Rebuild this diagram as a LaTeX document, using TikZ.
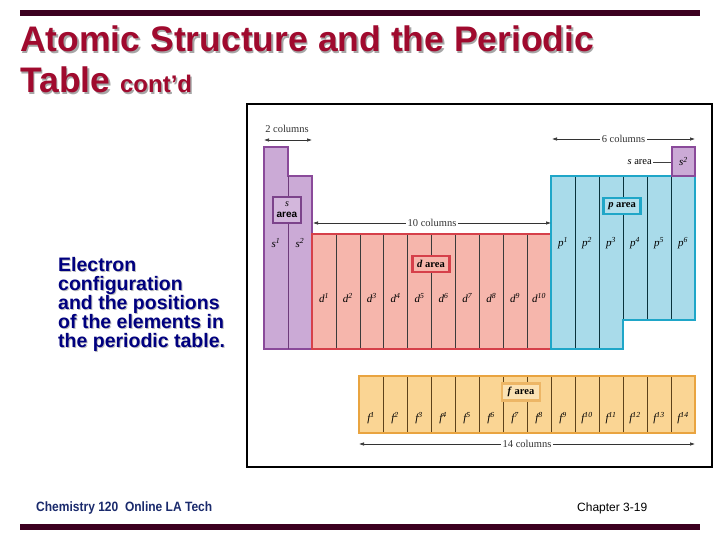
\documentclass[tikz,border=0pt]{standalone}
\usepackage{fontspec}
\setmainfont{Liberation Serif}
\setsansfont{Liberation Sans}
\usetikzlibrary{arrows.meta}
\definecolor{barc}{HTML}{3C0020}
\definecolor{titlered}{HTML}{A00A2E}
\definecolor{navyc}{HTML}{00007F}
\definecolor{footc}{HTML}{1A2A6C}
\definecolor{sfill}{HTML}{CBAAD6}
\definecolor{sline}{HTML}{8A4A9A}
\definecolor{dfill}{HTML}{F6B6AC}
\definecolor{dline}{HTML}{D6404A}
\definecolor{pfill}{HTML}{A9DBEA}
\definecolor{pline}{HTML}{1FA6C8}
\definecolor{ffill}{HTML}{FAD594}
\definecolor{fline}{HTML}{E9A440}
\definecolor{divc}{HTML}{3A3A3A}
\begin{document}
\begin{tikzpicture}[x=1bp,y=-1bp,
  blockline/.style={line width=2bp, line join=miter},
  divline/.style={line width=0.6bp, draw=divc},
  cell/.style={font=\fontsize{11bp}{12bp}\selectfont\itshape, inner sep=0pt},
  dimarrow/.style={draw=black!80, line width=0.6bp, {Latex[length=5bp,width=3.5bp]}-{Latex[length=5bp,width=3.5bp]}},
  dimtext/.style={font=\fontsize{10.5bp}{12bp}\selectfont, fill=white, inner sep=2bp, text=black!80},
  areabox/.style={line width=2.5bp, inner sep=1bp, font=\fontsize{10.5bp}{11bp}\selectfont\bfseries, align=center},
  titletext/.style={font=\sffamily\bfseries\fontsize{35.5bp}{38bp}\selectfont, anchor=base west, inner sep=0pt},
  sidetext/.style={font=\sffamily\bfseries\fontsize{19.5bp}{19bp}\selectfont, anchor=north west, align=left, inner sep=0pt}
]
\useasboundingbox (0,0) rectangle (720,540);
% bars
\fill[barc] (20,10) rectangle (700,16);
\fill[barc] (20,524) rectangle (700,530);
% title (shadow drawn first)
\node[titletext, text=black!35] at (21.5,53.5) {Atomic Structure and the Periodic};
\node[titletext, text=titlered] (t1) at (20,52) {Atomic Structure and the Periodic};
\node[titletext, text=black!35] at (21.5,94.5) {Table {\fontsize{24bp}{26bp}\selectfont cont’d}};
\node[titletext, text=titlered] (t2) at (20,93) {Table {\fontsize{24bp}{26bp}\selectfont cont’d}};
% side text
\node[sidetext, text=black!25] at (59,258) {Electron\\configuration\\and the positions\\of the elements in\\the periodic table.};
\node[sidetext, text=navyc] (side) at (58,257) {Electron\\configuration\\and the positions\\of the elements in\\the periodic table.};
% footer
\node[anchor=west, text=footc, font=\sffamily\bfseries\fontsize{13.5bp}{14bp}\selectfont, inner sep=0pt] (foot1) at (36,508) {\scalebox{0.89}[1]{Chemistry 120\ \ Online LA Tech}};
\node[anchor=west, font=\sffamily\fontsize{12bp}{14bp}\selectfont, inner sep=0pt] (foot2) at (577,508) {Chapter 3-19};
% frame
\draw[line width=2bp] (247,104) rectangle (712,467);
% s block
\filldraw[blockline, fill=sfill, draw=sline] (264,147) -- (288,147) -- (288,176) -- (312,176) -- (312,349) -- (264,349) -- cycle;
\draw[divline, draw=sline!80!black] (288,176) -- (288,349);
\node[areabox, fill=sfill!85!white, draw=sline!90!black, minimum width=28bp, minimum height=26bp, font=\fontsize{10bp}{11bp}\selectfont] (sarea) at (287,210) {\textit{s}\\\textbf{\sffamily area}};
\node[cell] (s1) at (276,243) {s\textsuperscript{1}};
\node[cell] (s2) at (300,243) {s\textsuperscript{2}};
% d block
\filldraw[blockline, fill=dfill, draw=dline] (312,234) rectangle (551,349);
\foreach \i in {1,...,9} \draw[divline] ({312+23.9*\i},235) -- ({312+23.9*\i},348);
\foreach \i in {1,...,10} \node[cell] (d\i) at ({312+23.9*(\i-0.5)},298) {d\textsuperscript{\i}};
\node[areabox, fill=dfill, draw=dline, minimum width=37bp, minimum height=16bp] (darea) at (431,264) {\textit{d} area};
% p block
\filldraw[blockline, fill=pfill, draw=pline] (551,176) -- (695,176) -- (695,320) -- (623,320) -- (623,349) -- (551,349) -- cycle;
\foreach \i in {1,2} \draw[divline, draw=black!70!pline] ({551+24*\i},177) -- ({551+24*\i},348);
\foreach \i in {3,4,5} \draw[divline, draw=black!70!pline] ({551+24*\i},177) -- ({551+24*\i},319);
\foreach \i in {1,...,6} \node[cell] (p\i) at ({551+24*(\i-0.5)},243) {p\textsuperscript{\i}};
\node[areabox, fill=pfill!90!white, draw=pline, minimum width=37bp, minimum height=16bp] (parea) at (622,206) {\textit{p} area};
% helium s box
\filldraw[blockline, line width=2.5bp, fill=sfill, draw=sline] (672,147) rectangle (695,176);
\node[cell] (s2he) at (683.5,161.5) {s\textsuperscript{2}};
\node[anchor=east, font=\fontsize{10.5bp}{12bp}\selectfont, inner sep=1bp] (sareat) at (653,162) {\textit{s} area};
\coordinate (hebox) at (671,162);
\draw[line width=0.6bp, black!75] (sareat.east) -- (hebox);
% f block
\filldraw[blockline, fill=ffill, draw=fline] (359,376) rectangle (695,433);
\foreach \i in {1,...,13} \draw[divline, draw=black!60!fline] ({359+24*\i},377) -- ({359+24*\i},432);
\foreach \i in {1,...,14} \node[cell] (f\i) at ({359+24*(\i-0.5)},418) {f\textsuperscript{\i}};
\node[areabox, fill=ffill!70!white, draw=fline!80!white, minimum width=38bp, minimum height=17bp] (farea) at (521,392) {\textit{f} area};
% dimension arrows
\coordinate (a2l) at (264,140); \coordinate (a2r) at (312,140);
\node[dimtext, fill=none] (c2) at (287,129) {2 columns};
\draw[dimarrow] (a2l) -- (a2r);
\coordinate (a10l) at (313,223); \coordinate (a10r) at (551,223);
\draw[dimarrow] (a10l) -- node[dimtext] (c10) {10 columns} (a10r);
\coordinate (a6l) at (552,139); \coordinate (a6r) at (695,139);
\draw[dimarrow] (a6l) -- node[dimtext] (c6) {6 columns} (a6r);
\coordinate (a14l) at (359,444); \coordinate (a14r) at (695,444);
\draw[dimarrow] (a14l) -- node[dimtext] (c14) {14 columns} (a14r);
\end{tikzpicture}
\end{document}
